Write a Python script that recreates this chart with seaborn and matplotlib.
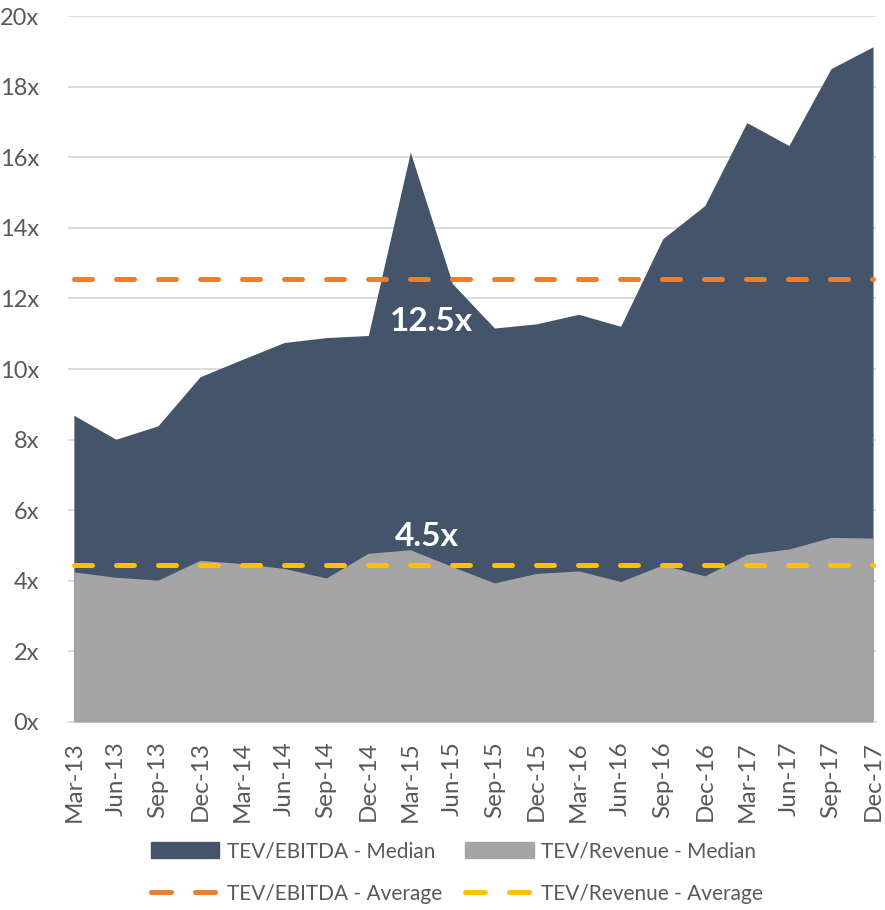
import numpy as np
import pandas as pd
import seaborn as sns
import matplotlib.pyplot as plt
from matplotlib.lines import Line2D
from matplotlib.patches import Patch

# quarter labels
quarters = ["Mar-13", "Jun-13", "Sep-13", "Dec-13", "Mar-14", "Jun-14", "Sep-14",
            "Dec-14", "Mar-15", "Jun-15", "Sep-15", "Dec-15", "Mar-16", "Jun-16",
            "Sep-16", "Dec-16", "Mar-17", "Jun-17", "Sep-17", "Dec-17"]

# median multiples
ebitda_median = [8.69, 8.01, 8.39, 9.78, 10.27, 10.75, 10.89, 10.95, 16.14, 12.42,
                 11.16, 11.28, 11.55, 11.21, 13.69, 14.63, 16.98, 16.33, 18.51, 19.13]
revenue_median = [4.25, 4.10, 4.02, 4.58, 4.49, 4.35, 4.08, 4.78, 4.88, 4.40,
                  3.94, 4.21, 4.28, 3.98, 4.45, 4.14, 4.75, 4.90, 5.23, 5.21]

ebitda_label = "12.5x"
revenue_label = "4.5x"

c_ebitda = "#44546A"
c_revenue = "#A5A5A5"
c_ebitda_avg = "#ED7D31"
c_revenue_avg = "#FFC000"
text_gray = "#595959"

sns.set_style("white")
plt.rcParams["font.family"] = ["Lato", "DejaVu Sans"]

df = pd.DataFrame({"pos": np.arange(len(quarters)),
                   "ebitda": ebitda_median,
                   "revenue": revenue_median})
df["ebitda_avg"] = df["ebitda"].mean()
df["revenue_avg"] = df["revenue"].mean()

fig = plt.figure(figsize=(8.85, 9.1), dpi=100)
ax = fig.add_axes([0.0768, 0.2066, 0.9130, 0.7758])

# areas (not stacked, revenue drawn over ebitda)
ax.fill_between(df["pos"], 0, df["ebitda"], color=c_ebitda, lw=0, zorder=2)
ax.fill_between(df["pos"], 0, df["revenue"], color=c_revenue, lw=0, zorder=3)

# averages
dash = (3.6, 4.8)
sns.lineplot(data=df, x="pos", y="ebitda_avg", ax=ax, color=c_ebitda_avg, lw=3.6,
             dashes=False, zorder=4).lines[-1].set_dashes(dash)
sns.lineplot(data=df, x="pos", y="revenue_avg", ax=ax, color=c_revenue_avg, lw=3.6,
             dashes=False, zorder=4).lines[-1].set_dashes(dash)
for ln in ax.lines:
    ln.set_dash_capstyle("round")

ax.text(8.5, 11.35, ebitda_label, color="white", fontsize=24, fontweight="bold",
        ha="center", va="center", zorder=5)
ax.text(8.4, 5.25, revenue_label, color="white", fontsize=24, fontweight="bold",
        ha="center", va="center", zorder=5)

# axes
ax.set_xlim(-0.14, 19.07)
ax.set_ylim(0, 20)
ax.set_yticks(np.arange(0, 21, 2))
ax.set_yticklabels([f"{v}x" for v in range(0, 21, 2)])
ax.set_xticks(df["pos"])
ax.set_xticklabels(quarters, rotation=90)
ax.set_xticks(df["pos"] - 0.14, minor=True)
ax.tick_params(axis="x", which="major", length=0, pad=14, labelsize=17.5, labelcolor=text_gray)
ax.tick_params(axis="x", which="minor", length=7, width=1.2, color="#D9D9D9")
ax.tick_params(axis="y", length=0, pad=21, labelsize=17, labelcolor=text_gray)
for lbl in ax.get_yticklabels():
    lbl.set_horizontalalignment("right")

ax.grid(axis="y", color="#D9D9D9", lw=1.3, zorder=0)
ax.set_axisbelow(True)
for s in ["left", "right", "top"]:
    ax.spines[s].set_visible(False)
ax.spines["bottom"].set_color("#D9D9D9")
ax.spines["bottom"].set_linewidth(1.3)
ax.set_xlabel("")
ax.set_ylabel("")

# legend (column-wise fill: medians on the first row, averages on the second)
leg_dash = (4.0, 4.8)
handles = [Patch(color=c_ebitda),
           Line2D([], [], color=c_ebitda_avg, lw=3.6, dashes=leg_dash, dash_capstyle="round"),
           Patch(color=c_revenue),
           Line2D([], [], color=c_revenue_avg, lw=3.6, dashes=leg_dash, dash_capstyle="round")]
labels = ["TEV/EBITDA - Median", "TEV/EBITDA - Average",
          "TEV/Revenue - Median", "TEV/Revenue - Average"]
fig.legend(handles, labels, ncol=2, loc="center", bbox_to_anchor=(0.516, 0.041),
           frameon=False, fontsize=15, labelcolor=text_gray, handlelength=3.3,
           handleheight=0.85, handletextpad=0.35, columnspacing=1.1, labelspacing=1.1)

plt.savefig("out.png", dpi=100)
